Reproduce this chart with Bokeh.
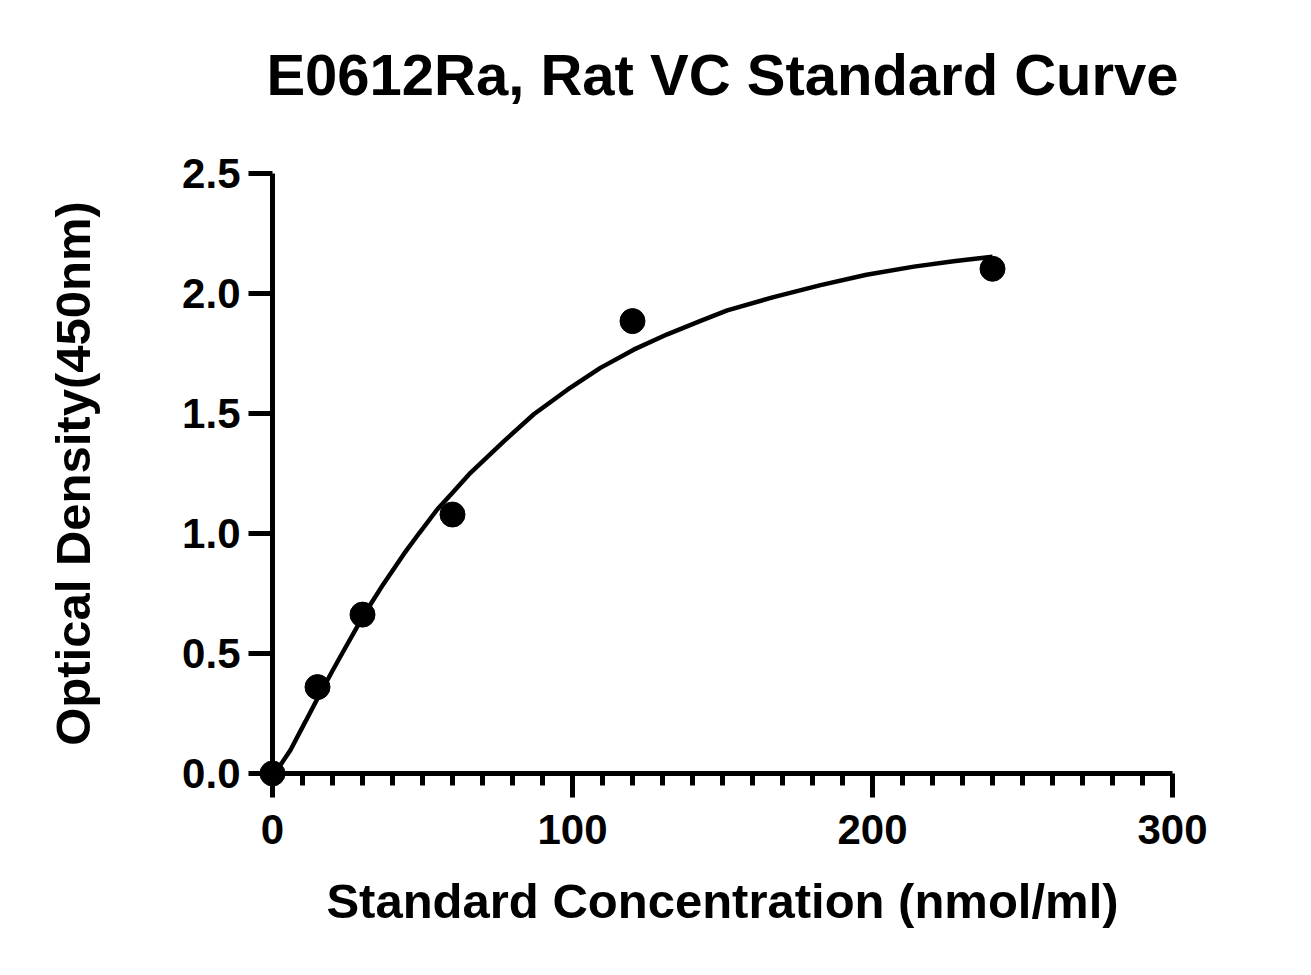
from bokeh.plotting import figure
from bokeh.models import Range1d, FixedTicker, PrintfTickFormatter, Title
from bokeh.embed import file_html
from bokeh.resources import INLINE

# Measured standards
conc = [0, 15, 30, 60, 120, 240]
od = [0.0, 0.36, 0.662, 1.079, 1.885, 2.103]

# Fitted curve
curve_x = [0, 1, 3, 6, 11, 15.4, 20, 23.2, 29.9, 32.7, 37, 43.8, 49, 54.9, 60, 66, 77.1, 87.1,
           98.2, 109.3, 120.4, 131.6, 142.7, 151.6, 167, 182.7, 198, 213.8, 227, 240]
curve_y = [0.0, 0.011, 0.042, 0.098, 0.217, 0.322, 0.428, 0.50, 0.648, 0.705, 0.79, 0.915, 1.003,
           1.10, 1.17, 1.253, 1.384, 1.497, 1.598, 1.69, 1.766, 1.83, 1.886, 1.93, 1.985, 2.035,
           2.078, 2.112, 2.134, 2.153]

x_ticks = [0, 100, 200, 300]
x_minor = [10, 20, 30, 40, 50, 60, 70, 80, 90, 110, 120, 130, 140, 150, 160, 170, 180, 190,
           210, 220, 230, 240, 250, 260, 270, 280, 290]
y_ticks = [0.0, 0.5, 1.0, 1.5, 2.0, 2.5]

title = "E0612Ra, Rat VC Standard Curve"
x_label = "Standard Concentration (nmol/ml)"
y_label = "Optical Density(450nm)"

FONT = "Liberation Sans"

p = figure(width=1311, height=975, output_backend="svg", toolbar_location=None,
           x_range=Range1d(0, 300), y_range=Range1d(0, 2.5),
           min_border_left=272, min_border_right=139, min_border_top=173, min_border_bottom=202,
           title=title)

p.outline_line_color = None
p.grid.visible = False
p.background_fill_color = "white"
p.border_fill_color = "white"

# spacer between the plot frame and the title
p.add_layout(Title(text=" ", text_font_size="2px", standoff=63), "above")

p.title.text_font = FONT
p.title.text_font_size = "58px"
p.title.text_font_style = "bold"
p.title.text_color = "black"
p.title.align = "center"
p.title.standoff = 0

for ax in (p.xaxis[0], p.yaxis[0]):
    ax.axis_line_width = 5
    ax.axis_line_color = "black"
    ax.major_tick_line_width = 5
    ax.major_tick_line_color = "black"
    ax.minor_tick_line_width = 5
    ax.minor_tick_line_color = "black"
    ax.major_tick_in = 0
    ax.major_tick_out = 24
    ax.minor_tick_in = 0
    ax.major_label_text_font = FONT
    ax.major_label_text_font_size = "42px"
    ax.major_label_text_font_style = "bold"
    ax.major_label_text_color = "black"
    ax.axis_label_text_font = FONT
    ax.axis_label_text_font_size = "49px"
    ax.axis_label_text_font_style = "bold"
    ax.axis_label_text_color = "black"

xa = p.xaxis[0]
xa.ticker = FixedTicker(ticks=x_ticks, minor_ticks=x_minor)
xa.minor_tick_out = 12
xa.major_label_standoff = 17
xa.axis_label = x_label
xa.axis_label_standoff = 27

ya = p.yaxis[0]
ya.ticker = FixedTicker(ticks=y_ticks)
ya.minor_tick_out = 0
ya.formatter = PrintfTickFormatter(format="%.1f")
ya.major_label_standoff = 8
ya.axis_label = y_label
ya.axis_label_standoff = 79

p.line(curve_x, curve_y, line_color="black", line_width=4.5, level="overlay")
p.scatter(conc, od, size=25, marker="circle", fill_color="black", line_color="black",
          level="overlay")

open("out.html", "w").write(file_html(p, INLINE))
